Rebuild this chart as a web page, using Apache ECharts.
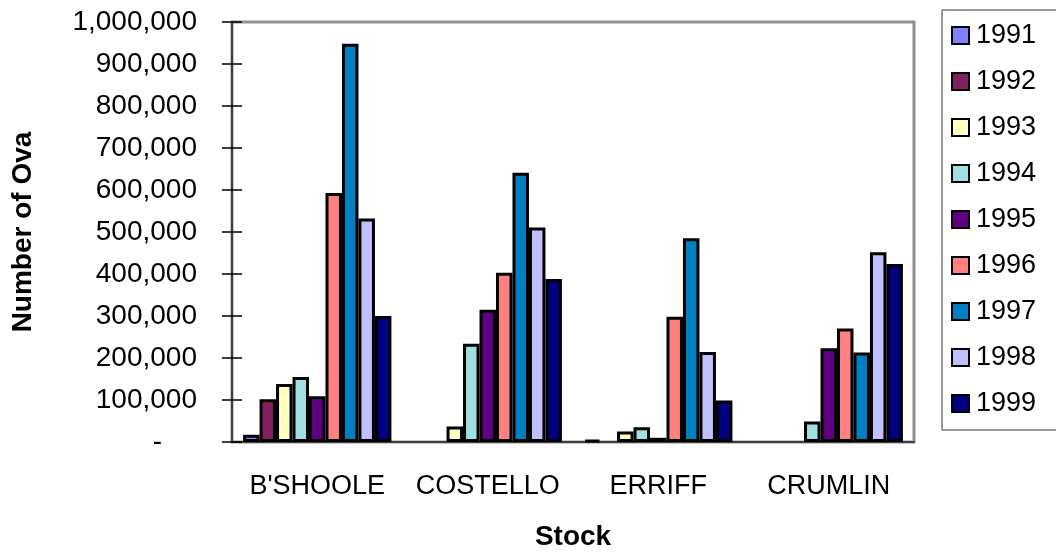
<!DOCTYPE html>
<html>
<head>
<meta charset="utf-8">
<title>Number of Ova by Stock</title>
<script src="https://cdn.jsdelivr.net/npm/echarts@6/dist/echarts.min.js"></script>
<style>
  html, body { margin: 0; padding: 0; background: #fff; }
  #chart { width: 1056px; height: 556px; }
</style>
</head>
<body>
<div id="chart"></div>
<script>
// 数据
const stocks = ["B'SHOOLE", 'COSTELLO', 'ERRIFF', 'CRUMLIN']
const years = ['1991', '1992', '1993', '1994', '1995', '1996', '1997', '1998', '1999']
const yearColors = ['#8080FF', '#802060', '#FFFFC0', '#A0E0E0', '#600080', '#FF8080', '#0080C0', '#C0C0FF', '#000080']

// one array per year, values per stock (null = no bar)
const ova1991 = [17000, null, 5000, null]
const ova1992 = [102000, null, null, null]
const ova1993 = [138000, 37000, 25000, null]
const ova1994 = [155000, 234000, 35000, 49000]
const ova1995 = [109000, 315000, 10000, 223000]
const ova1996 = [593000, 403000, 298000, 270000]
const ova1997 = [948000, 641000, 485000, 213000]
const ova1998 = [532000, 511000, 214000, 452000]
const ova1999 = [300000, 388000, 99000, 424000]
const yearValues = [ova1991, ova1992, ova1993, ova1994, ova1995, ova1996, ova1997, ova1998, ova1999]

const font = "'Liberation Sans', Arial, sans-serif"

const chart = echarts.init(document.getElementById('chart'))

const series = years.map((y, i) => ({
  name: y,
  type: 'bar',
  xAxisIndex: 0,
  yAxisIndex: 0,
  data: yearValues[i],
  barGap: '0%',
  barCategoryGap: '13%',
  itemStyle: { color: yearColors[i], borderColor: '#000', borderWidth: 3 },
  emphasis: { disabled: true }
}))

const option = {
  animation: false,
  grid: {
    left: 232, top: 22, width: 682, height: 423,
    show: true, borderColor: '#8f8f8f', borderWidth: 3, backgroundColor: '#fff'
  },
  legend: {
    orient: 'vertical',
    left: 942, top: 10,
    padding: [12, 30, 13, 9],
    itemWidth: 17, itemHeight: 17, itemGap: 19,
    icon: 'rect',
    borderColor: '#333', borderWidth: 1,
    textStyle: { fontFamily: font, fontSize: 27, lineHeight: 27, color: '#000', padding: [0, 0, 0, 2] },
    data: years
  },
  xAxis: [
    {
      type: 'category', data: stocks, position: 'bottom',
      name: 'Stock', nameLocation: 'middle', nameGap: 81,
      nameTextStyle: { fontFamily: font, fontSize: 28, fontWeight: 'bold', color: '#000' },
      axisLine: { lineStyle: { color: '#404040', width: 2 } },
      axisTick: { length: 10, lineStyle: { color: '#000', width: 1.5 } },
      axisLabel: { interval: 0, fontFamily: font, fontSize: 27, color: '#000', margin: 31 }
    },
    {
      type: 'category', data: stocks, position: 'bottom',
      axisLine: { show: false },
      axisTick: { inside: true, length: 10, lineStyle: { color: '#000', width: 1.5 } },
      axisLabel: { show: false }
    }
  ],
  yAxis: [
    {
      type: 'value', min: 0, max: 1000000, interval: 100000, position: 'left',
      name: 'Number of Ova', nameLocation: 'middle', nameGap: 195,
      nameTextStyle: { fontFamily: font, fontSize: 28, fontWeight: 'bold', color: '#000' },
      axisLine: { show: true, lineStyle: { color: '#404040', width: 2 } },
      axisTick: { show: true, length: 10, lineStyle: { color: '#000', width: 1.5 } },
      splitLine: { show: false },
      axisLabel: {
        fontFamily: font, fontSize: 28, color: '#000', margin: 35,
        // accounting style: zero shown as a dash set in from the right
        formatter: v => v === 0 ? '{dash|-}' : v.toLocaleString('en-US'),
        rich: {
          dash: { fontFamily: font, fontSize: 28, color: '#000', padding: [0, 35, 0, 0] }
        }
      }
    },
    {
      type: 'value', min: 0, max: 1000000, interval: 100000, position: 'left',
      axisLine: { show: false },
      axisTick: { show: true, inside: true, length: 10, lineStyle: { color: '#000', width: 1.5 } },
      splitLine: { show: false },
      axisLabel: { show: false }
    }
  ],
  series: series
}

chart.setOption(option)
</script>
</body>
</html>
